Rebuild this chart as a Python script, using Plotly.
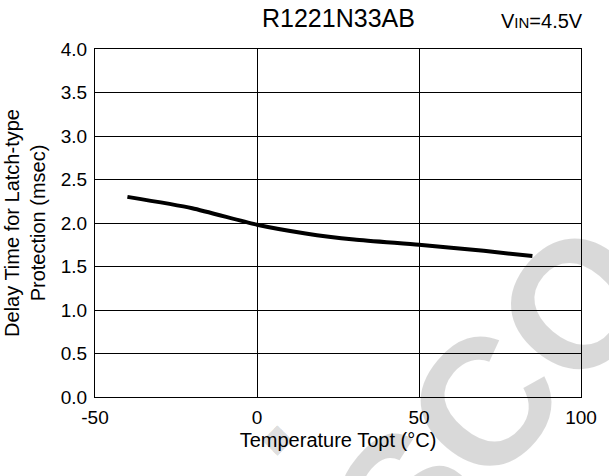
import plotly.graph_objects as go

# Delay time vs. ambient temperature, R1221N33AB at VIN = 4.5 V
temperature_c = [-40, -20, 0, 15, 30, 50, 70, 85]
delay_msec = [2.30, 2.17, 1.98, 1.88, 1.81, 1.75, 1.68, 1.62]

x_ticks = [-50, 0, 50, 100]
y_ticks = [0.0, 0.5, 1.0, 1.5, 2.0, 2.5, 3.0, 3.5, 4.0]

FONT = "Liberation Sans, Arial, sans-serif"

fig = go.Figure()
fig.add_trace(go.Scatter(
    x=temperature_c,
    y=delay_msec,
    mode="lines",
    line=dict(color="black", width=4, shape="spline", smoothing=0.6),
    showlegend=False,
    hoverinfo="skip",
))

axis_common = dict(
    showgrid=True,
    gridcolor="black",
    gridwidth=1,
    showline=True,
    linecolor="black",
    linewidth=1,
    mirror=True,
    zeroline=False,
    ticks="outside",
    tickcolor="rgba(0,0,0,0)",
    tickfont=dict(family=FONT, size=19, color="black"),
)

fig.update_xaxes(
    range=[-50, 100],
    tickvals=x_ticks,
    ticktext=[str(v) for v in x_ticks],
    ticklen=3,
    title=dict(text="Temperature Topt (°C)", font=dict(family=FONT, size=20, color="black"), standoff=6),
    **axis_common,
)
fig.update_yaxes(
    range=[0, 4],
    tickvals=y_ticks,
    ticktext=[f"{v:.1f}" for v in y_ticks],
    ticklen=3,
    title=dict(text="Delay Time for Latch-type<br>Protection (msec)", font=dict(family=FONT, size=20, color="black"), standoff=9),
    **axis_common,
)

fig.add_annotation(
    text="R1221N33AB", x=0.5, y=1.088, xref="paper", yref="paper",
    xanchor="center", yanchor="middle", showarrow=False,
    font=dict(family=FONT, size=25, color="black"),
)
fig.add_annotation(
    text="V<span style='font-size:15px'>IN</span>=4.5V", x=1.008, y=1.08,
    xref="paper", yref="paper", xanchor="right", yanchor="middle", showarrow=False,
    font=dict(family=FONT, size=20, color="black"),
)

# faint diagonal watermark, one glyph per annotation
WM_COLOR = "rgba(0,0,0,0.15)"
fig.add_annotation(
    text="◆", x=0.375, y=-0.115, xref="paper", yref="paper",
    xanchor="center", yanchor="middle", showarrow=False,
    font=dict(family="DejaVu Sans", size=40, color=WM_COLOR),
)
watermark_glyphs = ["S", "C", "O"]
watermark_x = [0.64, 0.80, 0.99]
watermark_y = [-0.29, -0.02, 0.27]
for glyph, gx, gy in zip(watermark_glyphs, watermark_x, watermark_y):
    fig.add_annotation(
        text=glyph, x=gx, y=gy, xref="paper", yref="paper",
        xanchor="center", yanchor="middle", showarrow=False, textangle=-50,
        font=dict(family=FONT, size=180, color=WM_COLOR, weight="bold"),
    )

fig.update_layout(
    width=609,
    height=476,
    margin=dict(l=95, r=23, t=49, b=79),
    paper_bgcolor="white",
    plot_bgcolor="white",
    font=dict(family=FONT, color="black"),
)

fig.write_html("out.html")
